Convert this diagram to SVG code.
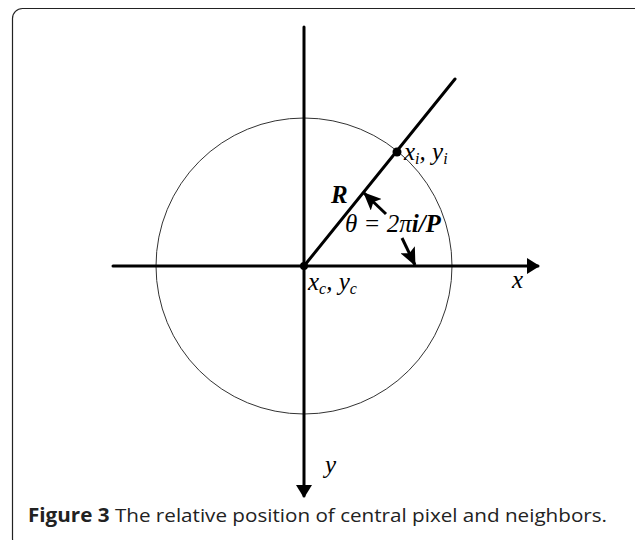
<svg xmlns="http://www.w3.org/2000/svg" width="635" height="540" viewBox="0 0 635 540">
<style>
.ax{stroke:#000;stroke-width:3;fill:none;stroke-linecap:round}
.m{font-family:"Liberation Serif",serif;font-style:italic;font-size:25px;fill:#000}
.s{font-size:16px}
.cap{font-family:"Open Sans","Noto Sans",sans-serif;font-size:19px;fill:#222}
</style>
<defs>
<marker id="ah" markerWidth="12" markerHeight="16" refX="11" refY="8" orient="auto" markerUnits="userSpaceOnUse">
<path d="M0,0 L13,8 L0,16 Z" fill="#000"/>
</marker>
<marker id="sh" markerWidth="18" markerHeight="16" refX="17" refY="8" orient="auto" markerUnits="userSpaceOnUse">
<path d="M0,0 L18,8 L0,16 L4,8 Z" fill="#000"/>
</marker>
</defs>
<rect x="12.5" y="8.5" width="640" height="540" rx="10" fill="#fff" stroke="#222" stroke-width="1.2"/>
<g id="circle"><circle cx="304" cy="266" r="148" fill="none" stroke="#333" stroke-width="1"/></g>
<g id="connectors">
<line class="ax" x1="113" y1="266" x2="538" y2="266" marker-end="url(#ah)"/>
<line class="ax" x1="304" y1="27" x2="304" y2="496" marker-end="url(#ah)"/>
<line class="ax" x1="304" y1="266" x2="455" y2="79"/>
<line x1="386" y1="214" x2="364" y2="193" stroke="#000" stroke-width="3" marker-end="url(#sh)"/>
<line x1="402" y1="238" x2="415" y2="265" stroke="#000" stroke-width="3" marker-end="url(#sh)"/>
</g>
<g id="center"><circle cx="304" cy="266" r="4" fill="#000"/>
<text class="m" x="308" y="290">x<tspan class="s" dy="4">c</tspan><tspan dy="-4">, y</tspan><tspan class="s" dy="4">c</tspan></text></g>
<g id="point"><circle cx="397" cy="152" r="4.5" fill="#000"/>
<text class="m" x="404" y="160">x<tspan class="s" dy="4">i</tspan><tspan dy="-4">, y</tspan><tspan class="s" dy="4">i</tspan></text></g>
<g id="labels">
<text class="m" x="331" y="203" font-weight="bold" font-size="24">R</text>
<text class="m" x="345" y="232" font-size="23">θ = 2π<tspan font-weight="bold">i/P</tspan></text>
<text class="m" x="512" y="288" font-size="28">x</text>
<text class="m" x="325" y="473" font-size="26">y</text>
</g>
<text class="cap" x="28" y="522" textLength="579" lengthAdjust="spacingAndGlyphs"><tspan font-weight="bold">Figure 3</tspan> The relative position of central pixel and neighbors.</text>
</svg>
